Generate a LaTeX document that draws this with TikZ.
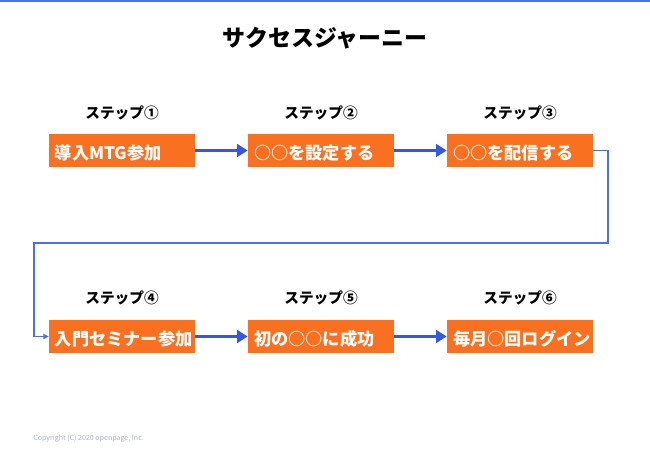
\documentclass[tikz,border=0pt]{standalone}
\usepackage{fontspec}
\setmainfont{Noto Sans CJK JP}
\usetikzlibrary{arrows.meta}
\definecolor{boxor}{HTML}{FA7021}
\definecolor{arrblue}{HTML}{3358E6}
\definecolor{lineblue}{HTML}{4C6FEA}
\definecolor{copyc}{HTML}{A8B0CC}
\begin{document}
\begin{tikzpicture}[x=0.75pt,y=-0.75pt,
  stepbox/.style={fill=boxor,text=white,font=\bfseries\fontsize{12.9}{14}\selectfont,
    text width=100.5pt,inner xsep=4.5pt,inner ysep=0pt,text height=13.7pt,text depth=0pt,
    minimum height=24.75pt,align=left,anchor=center},
  steplabel/.style={font=\bfseries\fontsize{11}{12}\selectfont,anchor=center},
  flow/.style={arrblue,line width=2.9pt,-{Triangle[length=8pt,width=9.5pt]}},
  loopline/.style={lineblue,line width=0.8pt,-{Triangle[length=4pt,width=4pt]}}]
\useasboundingbox (0,0) rectangle (650,450);
\fill[lineblue] (0,0) rectangle (650,2);
\node[font=\bfseries\fontsize{17.2}{20}\selectfont] (title) at (325,38) {サクセスジャーニー};
% row 1
\node[steplabel] (l1) at (122,113) {ステップ①};
\node[steplabel] (l2) at (321,113) {ステップ②};
\node[steplabel] (l3) at (520,113) {ステップ③};
\node[stepbox] (b1) at (122,150.5) {導入MTG参加};
\node[stepbox] (b2) at (321,150.5) {○○を設定する};
\node[stepbox] (b3) at (520,150.5) {○○を配信する};
% row 2
\node[steplabel] (l4) at (122,298) {ステップ④};
\node[steplabel] (l5) at (321,298) {ステップ⑤};
\node[steplabel] (l6) at (520,298) {ステップ⑥};
\node[stepbox] (b4) at (122,336.5) {入門セミナー参加};
\node[stepbox] (b5) at (321,336.5) {初の○○に成功};
\node[stepbox] (b6) at (520,336.5) {毎月○回ログイン};
\draw[flow] (b1.east) -- (b2.west);
\draw[flow] (b2.east) -- (b3.west);
\draw[flow] (b4.east) -- (b5.west);
\draw[flow] (b5.east) -- (b6.west);
\coordinate (c1) at (608,243);
\coordinate (c2) at (34,243);
\draw[loopline] (b3.east) -| (c1) -- (c2) |- (b4.west);
\node[font=\fontsize{5.3}{6}\selectfont,text=copyc,anchor=west,inner sep=0pt] (copy) at (33,438) {Copyright (C) 2020 openpage, Inc.};
\end{tikzpicture}
\end{document}
